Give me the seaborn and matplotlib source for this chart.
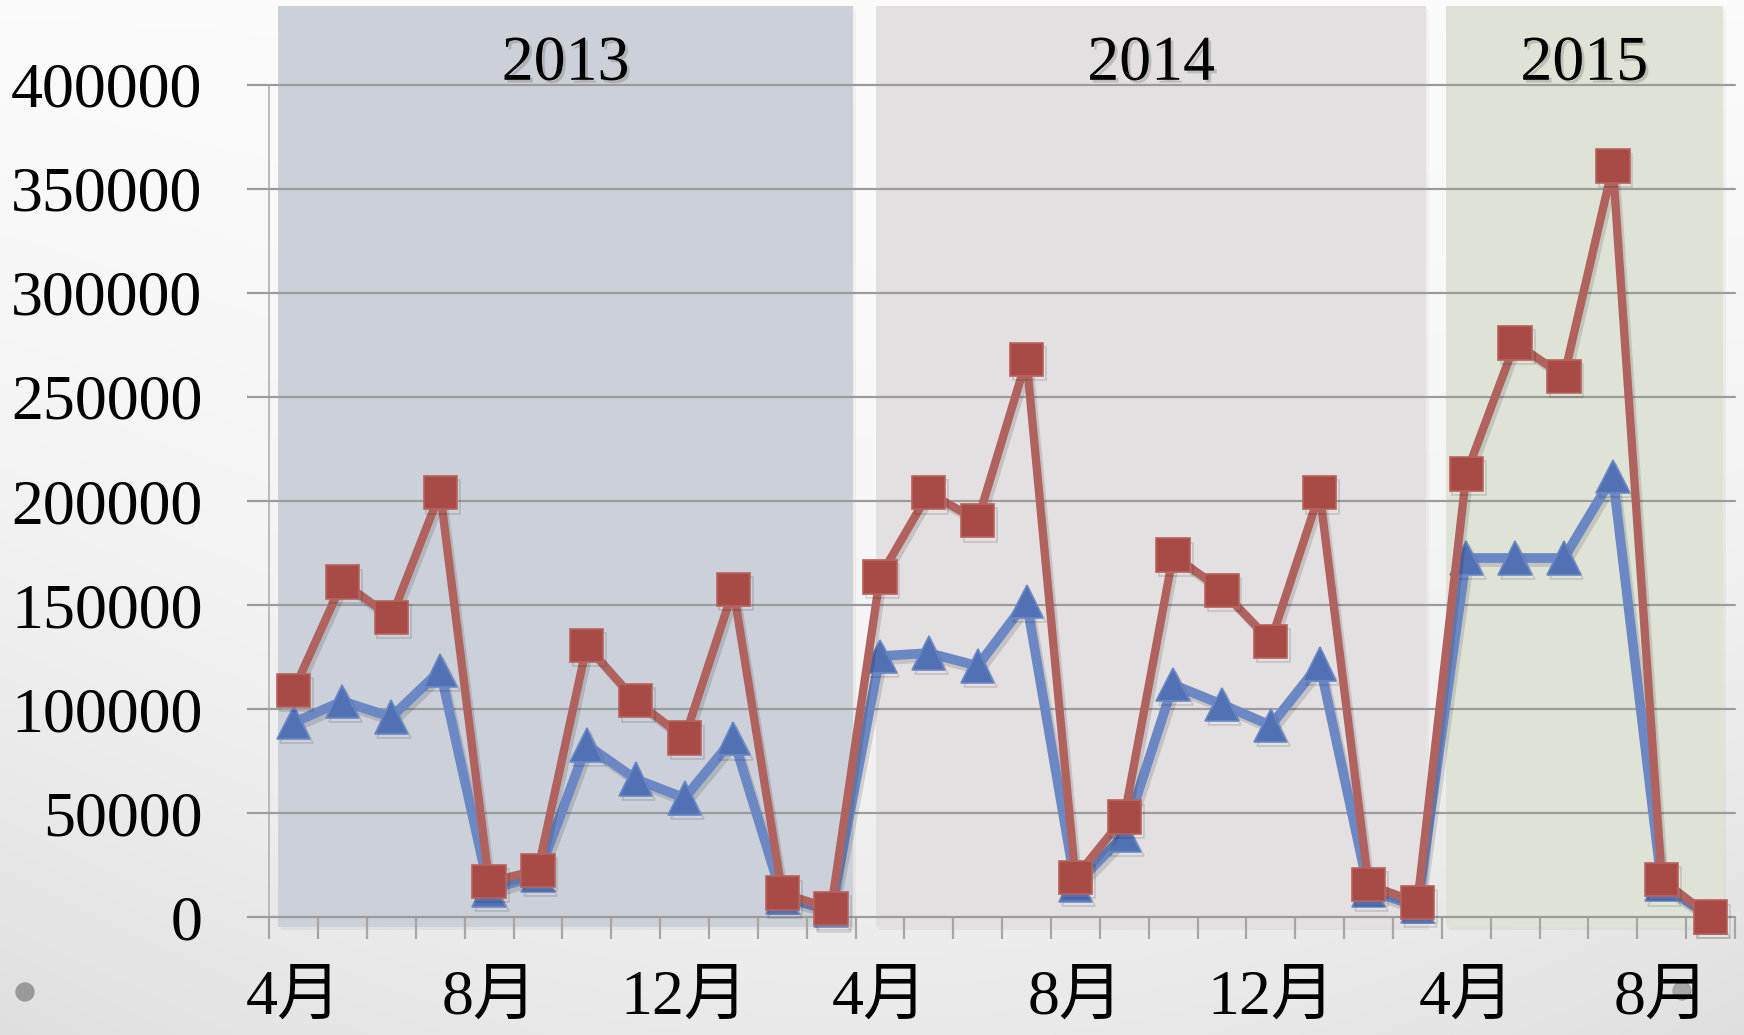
import numpy as np
import pandas as pd
import matplotlib
matplotlib.use("Agg")
import matplotlib.pyplot as plt
import matplotlib.patheffects as pe
from matplotlib.patches import Rectangle, Circle
import seaborn as sns

# ---------------- data ----------------
fiscal_years = ["2013"] * 12 + ["2014"] * 12 + ["2015"] * 6
months = [4, 5, 6, 7, 8, 9, 10, 11, 12, 1, 2, 3,
          4, 5, 6, 7, 8, 9, 10, 11, 12, 1, 2, 3,
          4, 5, 6, 7, 8, 9]
series_red = [109000, 161000, 144000, 204000, 17000, 22500, 130500, 104000, 86000, 157500, 11500, 4000,
              163500, 204000, 190500, 268000, 19000, 48000, 174000, 157000, 132500, 204000, 15500, 7000,
              213000, 276000, 260000, 361000, 18000, 0]
series_blue = [93500, 103700, 96100, 118500, 13000, 19900, 82700, 66300, 57200, 85700, 9600, 3000,
               125400, 126900, 120700, 151800, 15400, 39400, 111700, 102200, 92100, 121700, 13000, 5000,
               172600, 172600, 172600, 211800, 15500, 0]
y_ticks = [0, 50000, 100000, 150000, 200000, 250000, 300000, 350000, 400000]
y_tick_labels = [str(v) for v in y_ticks]
label_every = 4
band_labels = ["2013", "2014", "2015"]

# decoration styles
band_spans = [(-0.32, 11.45), (11.92, 23.18), (23.58, 29.25)]
band_colors = ["#CBD0D9", "#E4DFE0", "#DFE3D6"]

df = pd.DataFrame({"idx": np.arange(len(months)), "month": months, "fy": fiscal_years,
                   "red": series_red, "blue": series_blue})

sns.set_style("white")
plt.rcParams["font.family"] = ["Liberation Serif", "Noto Sans CJK JP"]
plt.rcParams["text.color"] = "black"
plt.rcParams["xtick.labelcolor"] = "black"
plt.rcParams["ytick.labelcolor"] = "black"

W, H = 1744, 1035
fig = plt.figure(figsize=(W / 100, H / 100), dpi=100)

# background slide gradient
ax_bg = fig.add_axes([0, 0, 1, 1], zorder=-10)
yy, xx = np.mgrid[0:H:4, 0:W:4]
fy = yy / H
fx = (xx - 0.5 * W) / (0.5 * W)
val = 0.985 - 0.07 * fy ** 2 - 0.04 * (fx ** 2) * fy
val = np.clip(val, 0, 1)
ax_bg.imshow(np.dstack([val, val, val]), extent=(0, W, H, 0), aspect="auto", interpolation="bilinear")
ax_bg.set_xlim(0, W)
ax_bg.set_ylim(H, 0)
ax_bg.add_patch(Circle((25, 992), 9, color="#999999"))
ax_bg.add_patch(Circle((1682, 991), 9, color="#999999", alpha=0.8, zorder=5))
ax_bg.axis("off")

left, right, bottom_px, top_px = 269.2, 1735, 917, 85
ax = fig.add_axes([left / W, (H - bottom_px) / H, (right - left) / W, (bottom_px - top_px) / H])
ax.set_facecolor("none")
ax.set_xlim(-0.5, len(months) - 0.5)
ax.set_ylim(0, 400000)

# year bands
ypp = 400000 / (bottom_px - top_px)
band_bottom = -10 * ypp
band_top = 400000 + (top_px - 6) * ypp
for (x0, x1), c, lab in zip(band_spans, band_colors, band_labels):
    ax.add_patch(Rectangle((x0 + 0.06, band_bottom - 3 * ypp), x1 - x0, band_top - band_bottom,
                           facecolor="#000000", alpha=0.04, edgecolor="none", zorder=0, clip_on=False))
    ax.add_patch(Rectangle((x0, band_bottom), x1 - x0, band_top - band_bottom,
                           facecolor=c, edgecolor="none", zorder=0.5, clip_on=False))
    ax.text((x0 + x1) / 2, 402500, lab, ha="center", va="baseline", fontsize=46, color="black",
            zorder=3, clip_on=False,
            path_effects=[pe.SimplePatchShadow(offset=(2, -2), alpha=0.25, shadow_rgbFace="#555555"),
                          pe.Normal()])

# grid
ax.set_yticks(y_ticks)
ax.set_yticklabels(y_tick_labels)
ax.yaxis.grid(True, color="#9C9C9C", lw=1.6, zorder=1)
ax.set_axisbelow(False)
for gl in ax.get_ygridlines():
    gl.set_clip_on(False)
    gl.set_zorder(1)

shadow = [pe.SimpleLineShadow(offset=(2, -3), alpha=0.13, shadow_color="black"), pe.Normal()]
sns.lineplot(data=df, x="idx", y="blue", ax=ax, color="#6C88C4", lw=7, marker="^", markersize=24,
             markerfacecolor="#5171B4", markeredgecolor="#6A88C6", markeredgewidth=1.2,
             clip_on=False, zorder=4, path_effects=shadow)
sns.lineplot(data=df, x="idx", y="red", ax=ax, color="#B0625E", lw=6, marker="s", markersize=24,
             markerfacecolor="#A84B47", markeredgecolor="#B8625D", markeredgewidth=1.2,
             clip_on=False, zorder=5, path_effects=shadow)

# axes styling
for s in ["top", "right", "bottom"]:
    ax.spines[s].set_visible(False)
ax.spines["left"].set_color("#B0B0B0")
ax.spines["left"].set_linewidth(1.2)
ax.spines["left"].set_zorder(1)

tick_idx = list(range(0, len(months), label_every))
ax.set_xticks(tick_idx)
ax.set_xticklabels([f"{months[i]}月" for i in tick_idx])
ax.set_xticks(np.arange(-0.5, len(months), 1.0), minor=True)
ax.tick_params(axis="x", which="major", length=0, pad=38, labelsize=46, labelcolor="black")
ax.tick_params(axis="x", which="minor", length=16, width=1.6, color="#A6A6A6", direction="out",
               bottom=True)
ax.tick_params(axis="y", which="major", length=16, width=1.6, color="#9C9C9C", direction="out",
               pad=32, labelsize=46, left=True, labelcolor="black")
ax.set_xlabel("")
ax.set_ylabel("")
leg = ax.get_legend()
if leg is not None:
    leg.remove()

fig.savefig("out.png", dpi=100)
